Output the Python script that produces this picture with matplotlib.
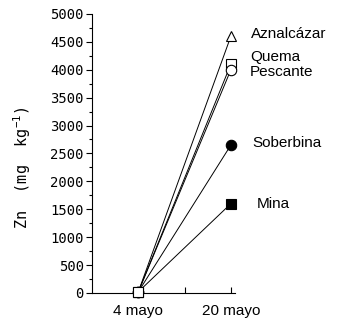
import matplotlib

matplotlib.use("Agg")
import matplotlib.pyplot as plt

# Zn concentration per site, sampled on 4 and 20 May
dates = ["4 mayo", "20 mayo"]
date_pos = [1, 3]
sites = ["Aznalcázar", "Quema", "Pescante", "Soberbina", "Mina"]
zn_4mayo = [20, 20, 20, 20, 20]
zn_20mayo = [4600, 4100, 4000, 2650, 1600]

markers = {
    "Aznalcázar": dict(marker="^", mfc="white"),
    "Quema": dict(marker="s", mfc="white"),
    "Pescante": dict(marker="o", mfc="white"),
    "Soberbina": dict(marker="o", mfc="black"),
    "Mina": dict(marker="s", mfc="black"),
}
# label anchor (x in data units, y in Zn units)
label_xy = {
    "Aznalcázar": (3.43, 4640),
    "Quema": (3.41, 4230),
    "Pescante": (3.41, 3960),
    "Soberbina": (3.46, 2680),
    "Mina": (3.55, 1590),
}

MONO = "DejaVu Sans Mono"
SANS = "Liberation Sans"

fig = plt.figure(figsize=(3.54, 3.31), dpi=100)
ax = fig.add_axes([0.26, 0.115, 0.404, 0.843])

mk = dict(ms=7.5, mec="black", mew=0.8, ls="none", clip_on=False)
for name, a, b in zip(sites, zn_4mayo, zn_20mayo):
    ax.plot(date_pos, [a, b], color="black", lw=0.7, zorder=2)
    ax.plot(date_pos[1], b, zorder=3, **mk, **markers[name])
    lx, ly = label_xy[name]
    ax.text(lx, ly, name, fontsize=11, family=SANS, va="center", ha="left",
            linespacing=0.9, clip_on=False)

# start points overlap; the open square ends up on top
for name, a in zip(sites[::-1], zn_4mayo[::-1]):
    if name == "Quema":
        continue
    ax.plot(date_pos[0], a, zorder=4, **mk, **markers[name])
ax.plot(date_pos[0], zn_4mayo[sites.index("Quema")], zorder=5, **mk, **markers["Quema"])

ax.set_xlim(0, 3.09)
ax.set_ylim(0, 5000)
ax.set_xticks([1, 2, 3])
ax.set_xticklabels([dates[0], "", dates[1]], fontsize=11, family=SANS)
ax.set_yticks(range(0, 5001, 500))
ax.set_yticks(range(0, 5001, 250), minor=True)
ax.set_yticklabels([str(v) for v in range(0, 5001, 500)], fontsize=10, family=MONO)
ax.tick_params(axis="x", direction="in", length=4, width=0.8, pad=8)
ax.tick_params(axis="y", which="major", direction="out", length=4, width=0.8, pad=2)
ax.tick_params(axis="y", which="minor", direction="out", length=2, width=0.8)
ax.set_ylabel(r"Zn  (mg  kg$^{\mathregular{-1}}$)", fontsize=11, family=MONO)
ax.yaxis.set_label_coords(-0.413, 0.45)

for s in ("top", "right"):
    ax.spines[s].set_visible(False)
for s in ("left", "bottom"):
    ax.spines[s].set_linewidth(0.8)

fig.savefig("out.png", dpi=100, facecolor="white")
